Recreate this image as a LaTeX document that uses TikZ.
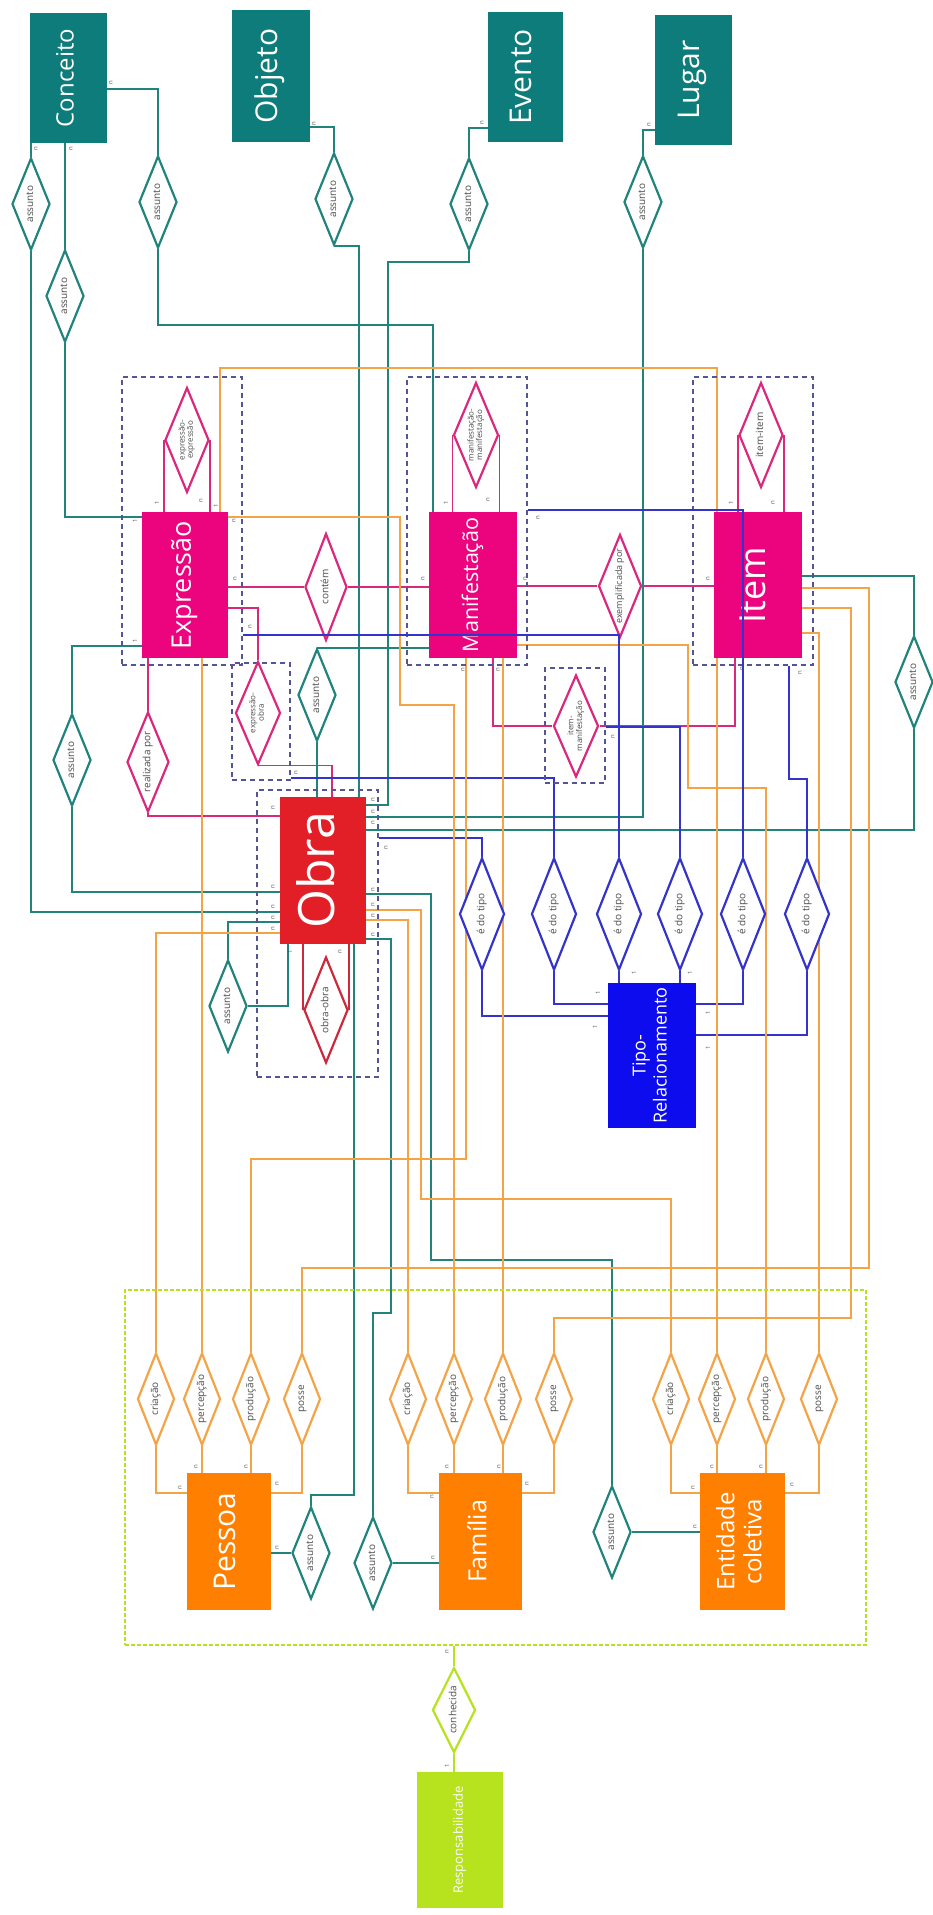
\documentclass[tikz,border=0pt]{standalone}
\usepackage{fontspec}
\setmainfont{Open Sans}
\usepackage{graphicx}
\usetikzlibrary{shapes.geometric,backgrounds}

\definecolor{frbrTeal}{RGB}{14,124,122}
\definecolor{lineTeal}{RGB}{32,132,124}
\definecolor{frbrPink}{RGB}{236,4,126}
\definecolor{linePink}{RGB}{218,40,124}
\definecolor{frbrRed}{RGB}{226,30,38}
\definecolor{lineRed}{RGB}{206,40,60}
\definecolor{frbrBlue}{RGB}{12,12,238}
\definecolor{lineBlue}{RGB}{52,52,204}
\definecolor{frbrOrange}{RGB}{255,128,0}
\definecolor{lineOrange}{RGB}{244,164,70}
\definecolor{frbrLime}{RGB}{182,226,30}
\definecolor{grpLine}{RGB}{84,84,150}

% texto vertical (de baixo para cima)
\newcommand{\vt}[1]{\rotatebox{90}{\begin{tabular}{@{}c@{}}#1\end{tabular}}}
\newcommand{\fs}[1]{\fontsize{#1}{#1}\selectfont}

\begin{document}
\begin{tikzpicture}[
  x=1pt, y=-1pt,
  ent/.style={rectangle, fill=#1, text=white, inner sep=0pt},
  rel/.style={diamond, draw=#1, fill=white, line width=2.2pt, aspect=0.42,
    inner sep=0pt, minimum width=38, minimum height=92, text=black!70,
    font=\fs{10}},
  lk/.style={draw=#1, line width=1.6pt},
  grp/.style={draw=grpLine, dash pattern=on 5pt off 4pt, line width=1.6pt, inner sep=0pt},
  card/.style={rotate=90, inner sep=0pt, font=\fs{6}, text=black!70}
]
\useasboundingbox (0,0) rectangle (933,1915);

% grupos (relacionamentos entre entidades do grupo 1)
\node[grp, minimum width=120, minimum height=288] (gExp) at (182,521) {};
\node[grp, minimum width=120, minimum height=288] (gMan) at (467,521) {};
\node[grp, minimum width=120, minimum height=288] (gItem) at (753,521) {};
\node[grp, minimum width=58, minimum height=117] (gEO) at (261,721.5) {};
\node[grp, minimum width=60, minimum height=115] (gIM) at (575,725.5) {};
\node[grp, minimum width=121, minimum height=287] (gObra) at (317.5,933.5) {};
\node[grp, draw=frbrLime, dash pattern=on 4pt off 2pt, minimum width=741, minimum height=355] (gResp) at (495.5,1467.5) {};

% entidades do grupo 3
\node[ent=frbrTeal, minimum width=77, minimum height=130, font=\fs{24}] (conceito) at (68.5,78) {\vt{Conceito}};
\node[ent=frbrTeal, minimum width=78, minimum height=132, font=\fs{30}] (objeto) at (271,76) {\vt{Objeto}};
\node[ent=frbrTeal, minimum width=75, minimum height=130, font=\fs{30}] (evento) at (525.5,77) {\vt{Evento}};
\node[ent=frbrTeal, minimum width=77, minimum height=130, font=\fs{30}] (lugar) at (693.5,80) {\vt{Lugar}};

% entidades do grupo 1
\node[ent=frbrPink, minimum width=86, minimum height=146, font=\fs{27}] (expressao) at (185,585) {\vt{Expressão}};
\node[ent=frbrPink, minimum width=88, minimum height=146, font=\fs{21.5}] (manif) at (473,585) {\vt{Manifestação}};
\node[ent=frbrPink, minimum width=88, minimum height=146, font=\fs{36}] (item) at (758,585) {\vt{Item}};
\node[ent=frbrRed, minimum width=86, minimum height=147, font=\fs{50}] (obra) at (323,870.5) {\vt{Obra}};
\node[ent=frbrBlue, minimum width=88, minimum height=145, font=\fontsize{18}{21}\selectfont] (tipo) at (652,1055.5) {\vt{Tipo-\\Relacionamento}};

% entidades do grupo 2
\node[ent=frbrOrange, minimum width=84, minimum height=137, font=\fs{30}] (pessoa) at (229,1541.5) {\vt{Pessoa}};
\node[ent=frbrOrange, minimum width=83, minimum height=137, font=\fs{25}] (familia) at (480.5,1541.5) {\vt{Família}};
\node[ent=frbrOrange, minimum width=85, minimum height=137, font=\fontsize{24}{27}\selectfont] (entidade) at (742.5,1541.5) {\vt{Entidade\\coletiva}};
\node[ent=frbrLime, minimum width=86, minimum height=136, font=\fs{13}] (resp) at (460,1840) {\vt{Responsabilidade}};

% assunto
\foreach \nm/\pos in {aC1/{(31,204)}, aC2/{(65,296)}, aC3/{(158,202)}, aOb/{(334,199)},
    aEv/{(469,204)}, aLu/{(643,202)}, aEx/{(72,760)}, aMa/{(317,695)}, aIt/{(914,682)},
    aOs/{(228,1006)}, aPe/{(311,1553)}, aFa/{(373,1563)}, aEn/{(612,1532)}}
  \node[rel=lineTeal] (\nm) at \pos {\vt{assunto}};

% relacionamentos do grupo 1
\node[rel=linePink, minimum width=44, minimum height=105, font=\fs{8}] (dEE) at (187,440) {\vt{expressão-\\expressão}};
\node[rel=linePink, minimum width=45, minimum height=105, font=\fs{8}] (dMM) at (476,435) {\vt{manifestação-\\manifestação}};
\node[rel=linePink, minimum width=44, minimum height=105] (dII) at (761,435) {\vt{item-item}};
\node[rel=linePink, minimum width=42, minimum height=107] (contem) at (326,587) {\vt{contém}};
\node[rel=linePink, minimum width=43, minimum height=103, font=\fs{9}] (exemp) at (620,586) {\vt{exemplificada por}};
\node[rel=linePink, minimum width=42, minimum height=100] (realiz) at (148,762) {\vt{realizada por}};
\node[rel=linePink, minimum width=45, minimum height=103, font=\fs{8}] (dEO) at (258,713) {\vt{expressão-\\obra}};
\node[rel=linePink, minimum width=45, minimum height=102, font=\fs{8}] (dIM) at (576,726) {\vt{item-\\manifestação}};
\node[rel=lineRed, minimum width=44, minimum height=106] (dOO) at (326,1010) {\vt{obra-obra}};

% tipo de relacionamento
\foreach \nm/\xx in {t1/482, t2/554, t3/619, t4/680, t5/743, t6/807}
  \node[rel=lineBlue, minimum width=45, minimum height=112] (\nm) at (\xx,914) {\vt{é do tipo}};

% responsabilidade
\foreach \nm/\xx/\tx in {p1/156/criação, p2/202/percepção, p3/251/produção, p4/302/posse,
    f1/408/criação, f2/454/percepção, f3/503/produção, f4/554/posse,
    e1/671/criação, e2/717/percepção, e3/766/produção, e4/819/posse}
  \node[rel=lineOrange, minimum width=37] (\nm) at (\xx,1399) {\vt{\tx}};
\node[rel=frbrLime, minimum width=43, minimum height=85] (conh) at (454,1710) {\vt{conhecida}};

\begin{scope}[on background layer]
  % assunto
  \draw[lk=lineTeal] (conceito.south -| aC1.north) -- (aC1.north);
  \draw[lk=lineTeal] (aC1.south) |- (obra.west |- 0,912);
  \draw[lk=lineTeal] (conceito.south -| aC2.north) -- (aC2.north);
  \draw[lk=lineTeal] (aC2.south) |- (expressao.west |- 0,517);
  \draw[lk=lineTeal] (conceito.east |- 0,89) -| (aC3.north);
  \draw[lk=lineTeal] (aC3.south) |- (433,325) -- (manif.north -| 433,0);
  \draw[lk=lineTeal] (objeto.east |- 0,127) -| (aOb.north);
  \draw[lk=lineTeal] (aOb.south) -| (obra.north -| 359,0);
  \draw[lk=lineTeal] (evento.west |- 0,128) -| (aEv.north);
  \draw[lk=lineTeal] (aEv.south) |- (388,262) |- (obra.east |- 0,805);
  \draw[lk=lineTeal] (lugar.west |- 0,130) -| (aLu.north);
  \draw[lk=lineTeal] (aLu.south) |- (obra.east |- 0,817);
  \draw[lk=lineTeal] (item.east |- 0,576) -| (aIt.north);
  \draw[lk=lineTeal] (aIt.south) |- (obra.east |- 0,830);
  \draw[lk=lineTeal] (manif.west |- 0,648) -| (aMa.north);
  \draw[lk=lineTeal] (aMa.south) -- (obra.north -| aMa.south);
  \draw[lk=lineTeal] (expressao.west |- 0,646) -| (aEx.north);
  \draw[lk=lineTeal] (aEx.south) |- (obra.west |- 0,892);
  \draw[lk=lineTeal] (obra.west |- 0,922) -| (aOs.north);
  \draw[lk=lineTeal] (aOs.east) -| (obra.south -| 288,0);
  \draw[lk=lineTeal] (obra.south -| 354,0) -- (354,1495) -| (aPe.north);
  \draw[lk=lineTeal] (aPe.west) -- (pessoa.east |- aPe.west);
  \draw[lk=lineTeal] (obra.east |- 0,939) -| (391,1313) -| (aFa.north);
  \draw[lk=lineTeal] (aFa.east) -- (familia.west |- aFa.east);
  \draw[lk=lineTeal] (obra.east |- 0,894) -| (431,1260) -| (aEn.north);
  \draw[lk=lineTeal] (aEn.east) -- (entidade.west |- aEn.east);

  % grupo 1
  \draw[lk=linePink] (expressao.east |- contem) -- (contem.west);
  \draw[lk=linePink] (contem.east) -- (manif.west |- contem);
  \draw[lk=linePink] (manif.east |- exemp) -- (exemp.west);
  \draw[lk=linePink] (exemp.east) -- (item.west |- exemp);
  \draw[lk=linePink] (expressao.south -| realiz) -- (realiz.north);
  \draw[lk=linePink] (realiz.south) |- (obra.west |- 0,816);
  \draw[lk=linePink] (expressao.east |- 0,608) -| (dEO.north);
  \draw[lk=linePink] (dEO.south) -| (obra.north -| 332,0);
  \draw[lk=linePink] (manif.south -| 493,0) |- (dIM.west);
  \draw[lk=linePink] (dIM.east) -| (item.south -| 735,0);
  \foreach \d/\b in {dEE/expressao, dMM/manif, dII/item} {
    \draw[lk=linePink] (\d.west) -- (\b.north -| \d.west);
    \draw[lk=linePink] (\d.east) -- (\b.north -| \d.east);
  }
  \draw[lk=lineRed] (dOO.west) -- (obra.south -| dOO.west);
  \draw[lk=lineRed] (dOO.east) -- (obra.south -| dOO.east);

  % tipo
  \draw[lk=lineBlue] (gObra.east |- 0,838) -| (t1.north);
  \draw[lk=lineBlue] (t1.south) |- (tipo.west |- 0,1016);
  \draw[lk=lineBlue] (gEO.east |- 0,778) -| (t2.north);
  \draw[lk=lineBlue] (t2.south) |- (tipo.west |- 0,1004);
  \draw[lk=lineBlue] (t3.south) -- (tipo.north -| t3.south);
  \draw[lk=lineBlue] (gIM.east |- 0,727) -| (t4.north);
  \draw[lk=lineBlue] (t4.south) -- (tipo.north -| t4.south);
  \draw[lk=lineBlue] (t5.south) |- (tipo.east |- 0,1004);
  \draw[lk=lineBlue] (gItem.south -| 789,0) -- (789,779) -| (t6.north);
  \draw[lk=lineBlue] (t6.south) |- (tipo.east |- 0,1035);

  % criação, percepção, produção, posse
  \draw[lk=lineOrange] (obra.west |- 0,933) -| (p1.north);
  \draw[lk=lineOrange] (obra.east |- 0,920) -| (f1.north);
  \draw[lk=lineOrange] (obra.east |- 0,910) -| (421,1199) -| (e1.north);
  \draw[lk=lineOrange] (expressao.south -| p2.north) -- (p2.north);
  \draw[lk=lineOrange] (expressao.east |- 0,517) -| (400,705) -| (f2.north);
  \draw[lk=lineOrange] (expressao.north -| 220,0) -- (220,368) -| (e2.north);
  \draw[lk=lineOrange] (manif.south -| 466,0) -- (466,1159) -| (p3.north);
  \draw[lk=lineOrange] (manif.south -| f3.north) -- (f3.north);
  \draw[lk=lineOrange] (manif.east |- 0,645) -| (688,788) -| (e3.north);
  \draw[lk=lineOrange] (item.east |- 0,588) -| (869,1268) -| (p4.north);
  \draw[lk=lineOrange] (item.east |- 0,608) -| (851,1318) -| (f4.north);
  \draw[lk=lineOrange] (item.east |- 0,633) -| (e4.north);
  \foreach \a/\b/\c/\d/\E in {p1/p2/p3/p4/pessoa, f1/f2/f3/f4/familia, e1/e2/e3/e4/entidade} {
    \draw[lk=lineOrange] (\a.south) |- (\E.west |- 0,1493);
    \draw[lk=lineOrange] (\b.south) -- (\E.north -| \b.south);
    \draw[lk=lineOrange] (\c.south) -- (\E.north -| \c.south);
    \draw[lk=lineOrange] (\d.south) |- (\E.east |- 0,1493);
  }

  \draw[lk=frbrLime, line width=2pt] (gResp.south -| conh.north) -- (conh.north);
  \draw[lk=frbrLime, line width=2pt] (conh.south) -- (resp.north -| conh.south);
\end{scope}

% passam por cima das caixas
\draw[lk=lineBlue] (gExp.east |- 0,635) -| (t3.north);
\draw[lk=lineBlue] (gMan.east |- 0,510) -| (t5.north);

% cardinalidades
\foreach \pos/\tx [count=\i] in {(36,149)/n, (71,149)/n, (111,83)/n, (314,124)/n, (482,123)/n, (649,125)/n,
    (135,521)/1, (234,521)/n, (135,641)/1, (216,506)/1,
    (157,503)/1, (201,501)/n, (446,503)/1, (488,500)/n, (731,503)/1, (773,503)/n,
    (235,579)/n, (423,579)/n, (525,579)/n, (708,579)/n,
    (463,670)/n, (498,670)/n, (742,669)/n,
    (250,627)/n, (538,518)/n, (386,848)/n, (296,773)/n, (613,737)/n, (800,673)/n,
    (273,808)/n, (273,887)/n, (273,907)/n, (273,918)/n, (273,929)/n,
    (373,800)/n, (373,812)/n, (373,823)/n, (373,890)/n, (373,905)/n, (373,916)/n, (373,935)/n,
    (290,952)/1, (340,952)/n,
    (180,1488)/n, (196,1467)/n, (246,1467)/n, (277,1484)/n, (277,1548)/n,
    (432,1497)/n, (447,1467)/n, (499,1467)/n, (527,1484)/n, (433,1558)/n,
    (693,1488)/n, (712,1467)/n, (761,1467)/n, (792,1485)/n, (695,1527)/n,
    (598,993)/1, (595,1027)/1, (634,973)/1, (690,973)/1, (708,1013)/1, (708,1048)/1,
    (447,1652)/n, (447,1766)/1}
  \node[card] (card\i) at \pos {\tx};
\end{tikzpicture}
\end{document}
